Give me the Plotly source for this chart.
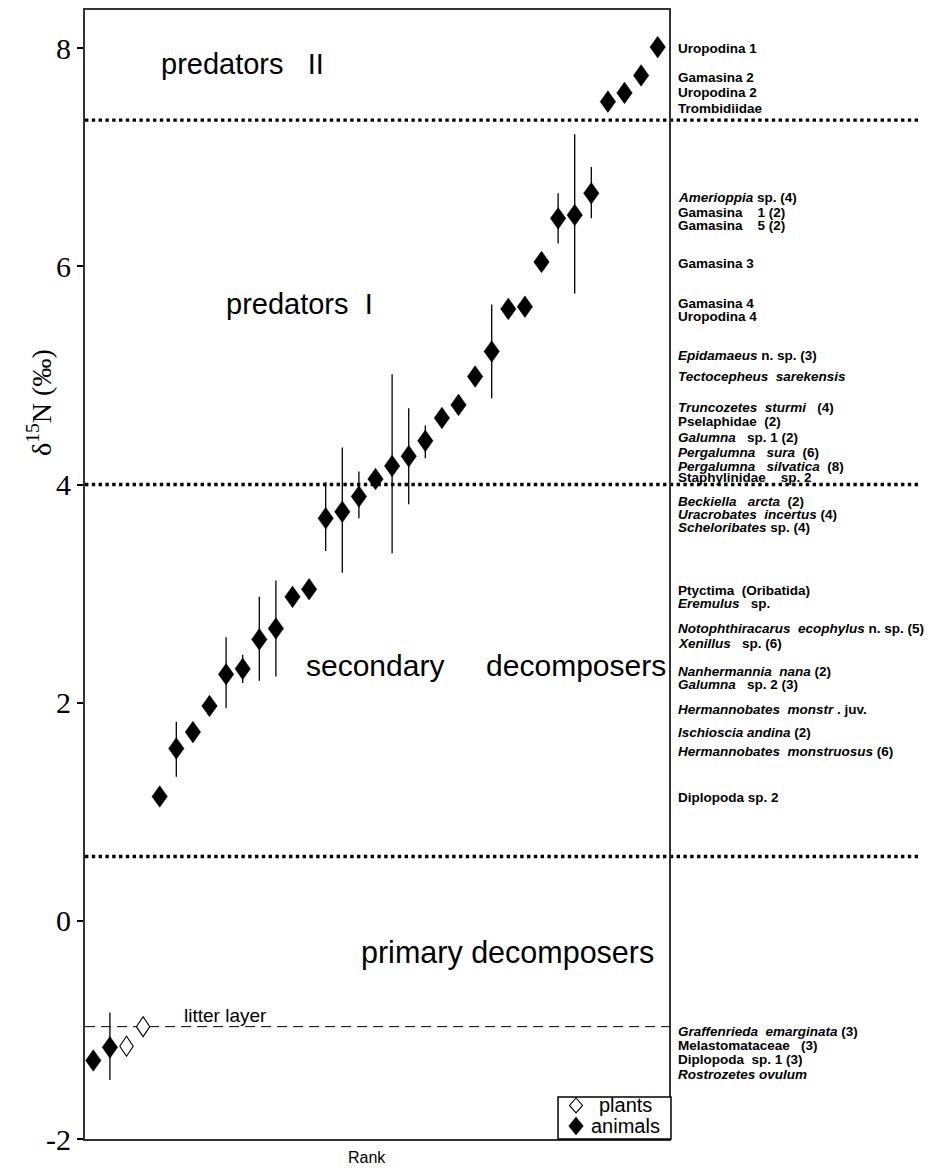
import plotly.graph_objects as go

# ---------------- data ----------------
ranks = list(range(1, 36))
d15n = [-1.28, -1.16, -1.15, -0.97,
        1.14, 1.58, 1.73, 1.97, 2.26, 2.31, 2.58, 2.68, 2.97, 3.04,
        3.69, 3.75, 3.89, 4.05, 4.17, 4.26, 4.40, 4.61, 4.73, 4.99,
        5.22, 5.61, 5.63, 6.04, 6.44, 6.47, 6.67,
        7.51, 7.59, 7.75, 8.01]
err_plus = [0, 0.32, 0, 0,
            0, 0.245, 0, 0, 0.34, 0.13, 0.39, 0.44, 0, 0,
            0.33, 0.59, 0.23, 0, 0.84, 0.44, 0.14, 0, 0, 0,
            0.43, 0, 0, 0, 0.23, 0.74, 0.24,
            0, 0, 0, 0]
err_minus = [0, 0.30, 0, 0,
             0, 0.26, 0, 0, 0.31, 0.13, 0.38, 0.44, 0, 0,
             0.30, 0.56, 0.20, 0, 0.80, 0.44, 0.16, 0, 0, 0,
             0.43, 0, 0, 0, 0.23, 0.72, 0.23,
             0, 0, 0, 0]
kind = ["animal", "animal", "plant", "plant"] + ["animal"] * 31
taxa = [
    "<i>Rostrozetes ovulum</i>",
    "Diplopoda  sp. 1 (3)",
    "Melastomataceae   (3)",
    "<i>Graffenrieda  emarginata</i> (3)",
    "Diplopoda sp. 2",
    "<i>Hermannobates  monstruosus</i> (6)",
    "<i>Ischioscia andina</i> (2)",
    "<i>Hermannobates  monstr</i> . juv.",
    "<i>Galumna</i>   sp. 2 (3)",
    "<i>Nanhermannia  nana</i> (2)",
    "<i>Xenillus</i>   sp. (6)",
    "<i>Notophthiracarus  ecophylus</i> n. sp. (5)",
    "<i>Eremulus</i>   sp.",
    "Ptyctima  (Oribatida)",
    "<i>Scheloribates</i> sp. (4)",
    "<i>Uracrobates  incertus</i> (4)",
    "<i>Beckiella   arcta</i>  (2)",
    "Staphylinidae    sp. 2",
    "<i>Pergalumna   silvatica</i>  (8)",
    "<i>Pergalumna   sura</i>  (6)",
    "<i>Galumna</i>   sp. 1 (2)",
    "Pselaphidae  (2)",
    "<i>Truncozetes  sturmi</i>   (4)",
    "<i>Tectocepheus  sarekensis</i>",
    "<i>Epidamaeus</i> n. sp. (3)",
    "Uropodina 4",
    "Gamasina 4",
    "Gamasina 3",
    "Gamasina    5 (2)",
    "Gamasina    1 (2)",
    "<i>Amerioppia</i> sp. (4)",
    "Trombidiidae",
    "Uropodina 2",
    "Gamasina 2",
    "Uropodina 1",
]
# vertical position (in δ15N units) of each taxon label in the right-hand column
label_pos = [-1.412, -1.275, -1.140, -1.015,
             1.135, 1.553, 1.727, 1.941, 2.163, 2.285, 2.538, 2.684, 2.910, 3.032,
             3.606, 3.725, 3.840, 4.060, 4.167, 4.297, 4.430, 4.581, 4.704, 4.993,
             5.182, 5.539, 5.661, 6.030, 6.371, 6.493, 6.630,
             7.448, 7.591, 7.728, 7.997]
boundaries = [7.34, 4.0, 0.59]
litter_level = -0.97
ytick_vals = [-2, 0, 2, 4, 6, 8]
ytick_text = ["-2", "0", "2", "4", "6", "8"]
legend_names = ["plants", "animals"]

# ---------------- figure ----------------
SANS = "Liberation Sans, Arial, sans-serif"
SERIF = "Liberation Serif, Times New Roman, serif"

ANIMAL_PATH = "M0,-10.8 L7.7,0 L0,10.8 L-7.7,0 Z"
PLANT_PATH = "M0,-10 L6.7,0 L0,10 L-6.7,0 Z"

fig = go.Figure()

for grp, sym, size in [("plant", "diamond-open", 9.5), ("animal", "diamond", 10.5)]:
    idx = [i for i, k in enumerate(kind) if k == grp]
    fig.add_trace(go.Scatter(
        x=[ranks[i] for i in idx],
        y=[d15n[i] for i in idx],
        mode="markers",
        name=legend_names[0] if grp == "plant" else legend_names[1],
        marker=dict(symbol=sym, size=size, color="black",
                    line=dict(color="black", width=1)),
        error_y=dict(type="data", symmetric=False,
                     array=[err_plus[i] for i in idx],
                     arrayminus=[err_minus[i] for i in idx],
                     color="black", thickness=1.3, width=0),
        showlegend=False,
    ))

shapes = []
# boundary lines (dotted, extending into the label column)
for b in boundaries:
    shapes.append(dict(type="line", xref="paper", yref="y", x0=0, x1=1.43,
                       y0=b, y1=b, line=dict(color="black", width=3.4, dash="dot"),
                       layer="below"))
# litter layer dashed line
shapes.append(dict(type="line", xref="paper", yref="y", x0=0, x1=1,
                   y0=litter_level, y1=litter_level,
                   line=dict(color="black", width=1, dash="10px,6px"), layer="below"))
# tall diamond glyphs at each data point
for r, v, k in zip(ranks, d15n, kind):
    if k == "animal":
        shapes.append(dict(type="path", xref="x", yref="y", xsizemode="pixel",
                           ysizemode="pixel", xanchor=r, yanchor=v, path=ANIMAL_PATH,
                           fillcolor="black", line=dict(color="black", width=0.5),
                           layer="above"))
    else:
        shapes.append(dict(type="path", xref="x", yref="y", xsizemode="pixel",
                           ysizemode="pixel", xanchor=r, yanchor=v, path=PLANT_PATH,
                           fillcolor="white", line=dict(color="black", width=1.1),
                           layer="above"))

# legend box (bottom-right corner)
shapes.append(dict(type="rect", xref="paper", yref="paper", x0=0.810, x1=1.0034,
                   y0=0, y1=0.0371, fillcolor="white",
                   line=dict(color="black", width=1.5), layer="above"))
shapes.append(dict(type="path", xref="paper", yref="paper", xsizemode="pixel",
                   ysizemode="pixel", xanchor=0.8408, yanchor=0.0297,
                   path="M0,-7.5 L6.5,0 L0,7.5 L-6.5,0 Z", fillcolor="white",
                   line=dict(color="black", width=1.1), layer="above"))
shapes.append(dict(type="path", xref="paper", yref="paper", xsizemode="pixel",
                   ysizemode="pixel", xanchor=0.8408, yanchor=0.0115,
                   path="M0,-9 L7.3,0 L0,9 L-7.3,0 Z", fillcolor="black",
                   line=dict(color="black", width=0.5), layer="above"))

annotations = []
for t, p in zip(taxa, label_pos):
    annotations.append(dict(text="<b>" + t.replace(" ", "\u00a0") + "</b>",
                            xref="paper", yref="y", x=1.012, y=p,
                            xanchor="left", yanchor="middle", showarrow=False,
                            font=dict(family=SANS, size=13.5, color="black")))

def region(text, x, y, size=29):
    annotations.append(dict(text=text.replace(" ", "\u00a0"), xref="paper", yref="paper",
                            x=x, y=y, xanchor="center", yanchor="middle",
                            showarrow=False,
                            font=dict(family=SANS, size=size, color="black")))

region("predators   II", 0.2705, 0.952)
region("predators  I", 0.368, 0.740)
region("secondary     decomposers", 0.687, 0.419, size=30)
region("primary decomposers", 0.724, 0.165, size=30.5)
region("litter layer", 0.2414, 0.1096, size=19)

# legend texts
for name, yp in zip(legend_names, [0.0297, 0.0115]):
    annotations.append(dict(text=name, xref="paper", yref="paper", x=0.9255, y=yp,
                            xanchor="center", yanchor="middle", showarrow=False,
                            font=dict(family=SANS, size=20, color="black")))

annotations.append(dict(text="Rank", xref="paper", yref="paper", x=0.483, y=-0.0168,
                        xanchor="center", yanchor="middle", showarrow=False,
                        font=dict(family=SANS, size=16, color="black")))
annotations.append(dict(text="δ<sup>15</sup>N (‰)", xref="paper", yref="paper",
                        x=-0.077, y=0.652, xanchor="center", yanchor="middle",
                        textangle=-90, showarrow=False,
                        font=dict(family=SERIF, size=28, color="black")))

fig.update_layout(
    width=933, height=1162,
    margin=dict(l=77, r=272, t=0, b=31),
    paper_bgcolor="white", plot_bgcolor="white",
    shapes=shapes, annotations=annotations,
    showlegend=False,
    xaxis=dict(range=[0.5, 35.68], showticklabels=False, ticks="",
               showgrid=False, zeroline=False, showline=True, mirror=True,
               linecolor="#333", linewidth=2),
    yaxis=dict(range=[-2.0, 8.35], tickvals=ytick_vals, ticktext=ytick_text,
               ticks="outside", ticklen=6, tickwidth=1.5, tickcolor="black",
               tickfont=dict(family=SERIF, size=30, color="black"),
               showgrid=False, zeroline=False, showline=True, mirror=True,
               linecolor="#333", linewidth=2),
)

fig.write_html("out.html")
